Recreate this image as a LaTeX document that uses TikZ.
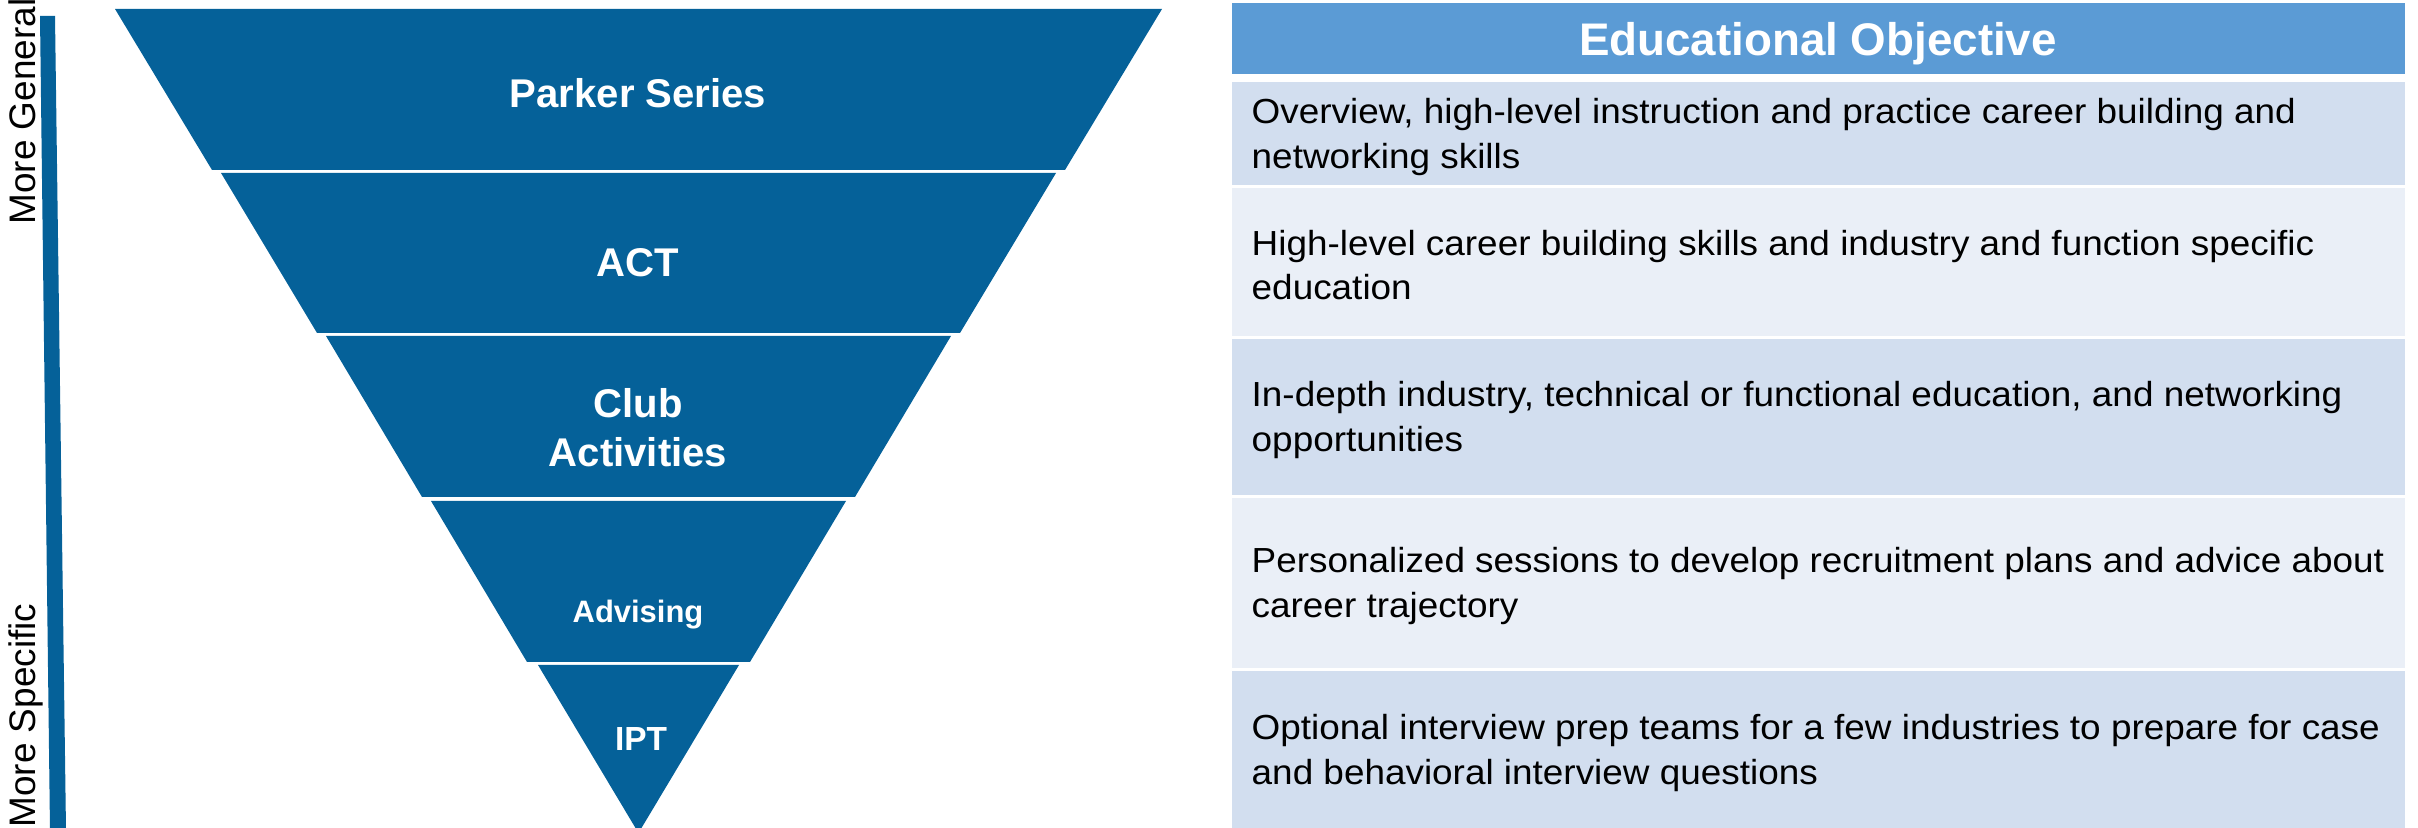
\documentclass[tikz,border=0pt]{standalone}
\usepackage{fontspec}
\setmainfont{Liberation Sans}
\newfontfamily\bodyfont[FakeStretch=1.06]{Liberation Sans}
\definecolor{funnelblue}{RGB}{5,97,153}
\definecolor{hdrblue}{HTML}{5B9BD5}
\definecolor{rowdark}{HTML}{D2DEEF}
\definecolor{rowlight}{HTML}{EAEFF7}
\tikzset{
  band/.style={fill=funnelblue},
  bandlabel/.style={text=white, inner sep=0, font=\fontsize{11.4}{13.9}\selectfont\bfseries, align=center},
  sidelabel/.style={rotate=90, inner sep=0, font=\fontsize{10.5}{12}\selectfont},
  rowtext/.style={anchor=west, inner sep=0, align=left, font=\bodyfont\fontsize{9.9}{12.7}\selectfont},
}
\begin{document}
\begin{tikzpicture}[x=0.01cm,y=-0.01cm]
\path[use as bounding box] (0,0) rectangle (2418,828);
\clip (0,0) rectangle (2418,828);

% side bar and labels
\fill[funnelblue] (40,16) -- (55,16) -- (66,830) -- (50,830) -- cycle;
\node[sidelabel, anchor=base east] (gen) at (35,-2) {More General};
\node[sidelabel, anchor=base east] (spec) at (35,603) {More Specific};

% funnel bands
\fill[band] (115,9) -- (1162,9) -- (1065,170) -- (212,170) -- cycle;
\fill[band] (221,173) -- (1056,173) -- (960,333) -- (317,333) -- cycle;
\fill[band] (326,336) -- (951,336) -- (855,497) -- (422,497) -- cycle;
\fill[band] (431,501) -- (846,501) -- (750,662) -- (527,662) -- cycle;
\fill[band] (538,665) -- (739,665) -- (638.5,833) -- cycle;

\node[bandlabel, anchor=base] (parker) at (638,108) {Parker Series};
\node[bandlabel, anchor=base] (act) at (638,277) {ACT};
\node[bandlabel] (club) at (638,428) {Club\\Activities};
\node[bandlabel, anchor=base, font=\fontsize{8.8}{10}\selectfont\bfseries] (adv) at (638,623) {Advising};
\node[bandlabel, anchor=base, font=\fontsize{9.5}{11}\selectfont\bfseries] (ipt) at (641,751) {IPT};

% table
\fill[hdrblue] (1232,3) rectangle (2405,74);
\fill[rowdark] (1232,82) rectangle (2405,185);
\fill[rowlight] (1232,188) rectangle (2405,336);
\fill[rowdark] (1232,339) rectangle (2405,495);
\fill[rowlight] (1232,498) rectangle (2405,668);
\fill[rowdark] (1232,671) rectangle (2405,830);

\node[text=white, inner sep=0, anchor=base, font=\fontsize{13}{15}\selectfont\bfseries] (hdr) at (1818,56) {Educational Objective};

\node[rowtext] (r1) at (1251,137) {Overview, high-level instruction and practice career building and\\networking skills};
\node[rowtext] (r2) at (1251,265) {High-level career building skills and industry and function specific\\education};
\node[rowtext] (r3) at (1251,420) {In-depth industry, technical or functional education, and networking\\opportunities};
\node[rowtext] (r4) at (1251,586) {Personalized sessions to develop recruitment plans and advice about\\career trajectory};
\node[rowtext] (r5) at (1251,753) {Optional interview prep teams for a few industries to prepare for case\\and behavioral interview questions};
\end{tikzpicture}
\end{document}
